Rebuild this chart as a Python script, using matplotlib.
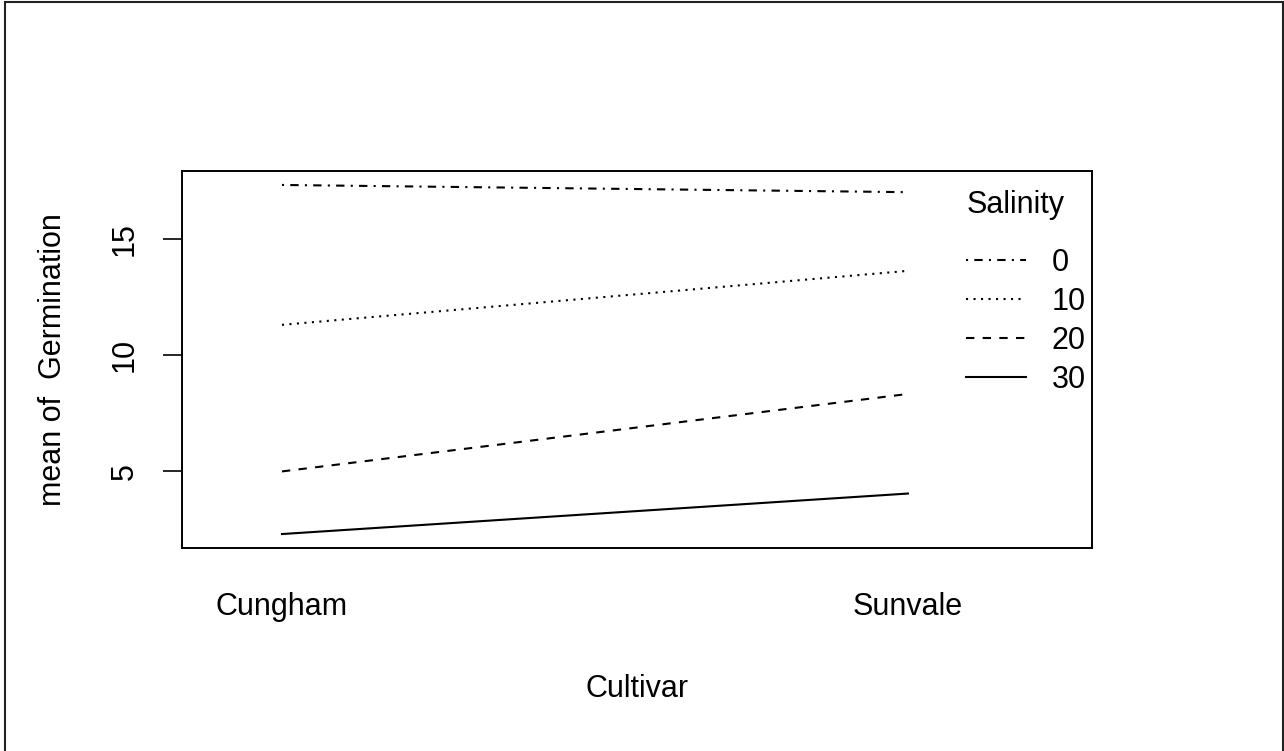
import matplotlib
matplotlib.use("Agg")
import matplotlib.pyplot as plt
from matplotlib.patches import Rectangle

cultivars = ["Cungham", "Sunvale"]
salinity_levels = ["0", "10", "20", "30"]
germ_0 = [17.31, 17.0]
germ_10 = [11.3, 13.62]
germ_20 = [5.0, 8.33]
germ_30 = [2.31, 4.05]

series = [germ_0, germ_10, germ_20, germ_30]
dash_styles = [(0, (1, 3, 4, 3)), (0, (1, 2.6)), (0, (4, 4)), "-"]

plt.rcParams["font.family"] = ["Liberation Sans", "DejaVu Sans"]
FS = 22

fig = plt.figure(figsize=(12.84, 7.51), dpi=100)
W, H = 1284, 751
ax = fig.add_axes([182 / W, 1 - 548 / H, (1092 - 182) / W, (548 - 171) / H])

x = [1, 2]
for vals, ls, lab in zip(series, dash_styles, salinity_levels):
    ax.plot(x, vals, color="black", lw=1.5, linestyle=ls, label=lab)

ymin = min(min(s) for s in series)
ymax = max(max(s) for s in series)
rng = ymax - ymin
ax.set_ylim(ymin - 0.04 * rng, ymax + 0.04 * rng)
ax.set_xlim(0.8403, 2.294)

ax.set_xticks(x)
ax.set_xticklabels(cultivars, fontsize=FS)
ax.set_yticks([5, 10, 15])
ax.set_yticklabels(["5", "10", "15"], fontsize=FS, rotation=90, va="center")
ax.tick_params(axis="x", length=0, pad=32)
ax.tick_params(axis="y", length=13.5, width=1.2, pad=17)
for sp in ax.spines.values():
    sp.set_linewidth(1.4)

ax.set_xlabel("Cultivar", fontsize=FS, labelpad=37)
ax.set_ylabel("mean of  Germination", fontsize=FS, labelpad=30)

leg = ax.legend(title="Salinity", loc="upper left", bbox_to_anchor=(0.862, 0.95),
                frameon=False, fontsize=FS, title_fontsize=FS,
                handlelength=1.95, handletextpad=0.85, labelspacing=0.3,
                borderaxespad=0, borderpad=0, alignment="left")
leg._legend_box.sep = 20

fig.patches.append(Rectangle((4.5 / W, -0.05), (1283 - 4.5) / W, 1.05 - 2.5 / H,
                             transform=fig.transFigure, fill=False,
                             edgecolor="#222222", lw=1.5))

fig.savefig("out.png", dpi=100)
